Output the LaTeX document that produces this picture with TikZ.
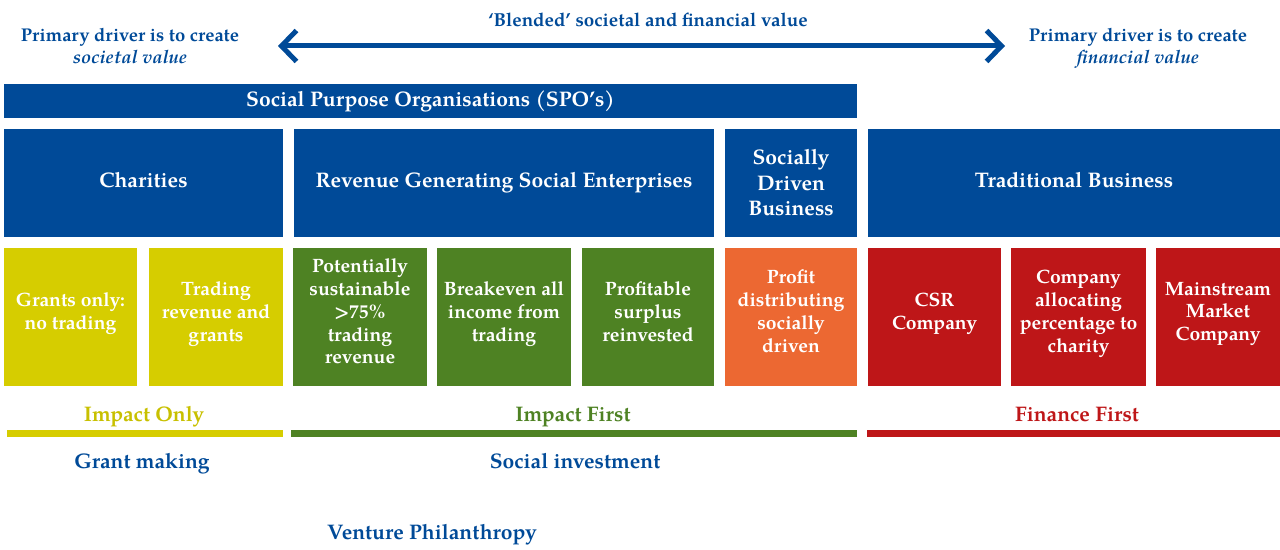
\documentclass[tikz,border=0pt]{standalone}
\usepackage{fontspec}
\setmainfont{texgyrepagella}[Extension=.otf, UprightFont=*-regular, BoldFont=*-bold, ItalicFont=*-italic, BoldItalicFont=*-bolditalic]
\usetikzlibrary{arrows.meta}
\definecolor{spoblue}{RGB}{0,74,152}
\definecolor{impyellow}{RGB}{214,205,0}
\definecolor{onlytext}{RGB}{200,192,0}
\definecolor{impgreen}{RGB}{78,130,35}
\definecolor{sdorange}{RGB}{236,104,50}
\definecolor{finred}{RGB}{190,22,24}
\begin{document}
\begin{tikzpicture}[x=0.02cm, y=-0.02cm,
		head/.style={fill=spoblue, text=white, font=\bfseries\fontsize{12}{14.5}\selectfont, align=center, inner sep=0pt, minimum height=2.16cm},
		cell/.style={fill=#1, text=white, font=\bfseries\fontsize{11}{13}\selectfont, align=center, inner sep=0pt, text depth=6.5pt, minimum height=2.76cm},
		blurb/.style={text=#1, font=\bfseries\fontsize{12}{14}\selectfont, align=center, text depth=0pt},
		note/.style={text=spoblue, font=\bfseries\fontsize{10.5}{12.5}\selectfont, align=center, text depth=0pt}]
		\useasboundingbox (0,0) rectangle (1280,550);
		
		% blended value arrow
		\coordinate (L) at (278,46);
		\coordinate (R) at (1005,46);
		\draw[spoblue, line width=0.1cm, {Straight Barb[length=0.3cm,width=0.62cm]}-{Straight Barb[length=0.3cm,width=0.62cm]}] (L) -- (R);
		\node[note, font=\bfseries\fontsize{10.7}{12.5}\selectfont] (blend) at (648,19.5) {‘Blended’ societal and financial value};
		\node[note] (soc) at (130,46) {Primary driver is to create\\\textit{societal value}};
		\node[note] (fin) at (1138,46) {Primary driver is to create\\\textit{financial value}};
		
		\node[head, minimum width=17.06cm, minimum height=0.68cm] (spo) at (430.5,101) {Social Purpose Organisations (SPO’s)};
		
		\foreach \name/\cx/\w/\txt in {char/143.5/5.58/Charities, rgse/504/8.4/Revenue Generating Social Enterprises, trad/1074/8.24/Traditional Business}
			\node[head, text depth=3pt, minimum width=\w cm] (\name) at (\cx,183) {\txt};
		\node[head, minimum width=2.64cm] (sdb) at (791,183) {Socially\\Driven\\Business};
		
		\foreach \name/\cx/\w/\col/\txt in {
			grant/70.5/2.66/impyellow/Grants only:\\no trading,
			trade/216/2.68/impyellow/Trading\\revenue and\\grants,
			pot/360/2.68/impgreen/Potentially\\sustainable\\>75\%\\trading\\revenue,
			even/504/2.68/impgreen/Breakeven all\\income from\\trading,
			surp/648/2.64/impgreen/Profitable\\surplus\\reinvested,
			dist/791/2.64/sdorange/Profit\\distributing\\socially\\driven,
			csr/934.5/2.66/finred/CSR\\Company,
			alloc/1078.5/2.7/finred/Company\\allocating\\percentage to\\charity,
			main/1218/2.48/finred/Mainstream\\Market\\Company}
			\node[cell=\col, minimum width=\w cm] (\name) at (\cx,317) {\txt};
		
		\fill[impyellow] (7,430) rectangle (283,437);
		\fill[impgreen] (291,430) rectangle (857,437);
		\fill[finred] (867,430) rectangle (1280,437);
		
		\node[blurb=onlytext] (only) at (144,414) {Impact Only};
		\node[blurb=impgreen] (first) at (573,414) {Impact First};
		\node[blurb=finred] (finfirst) at (1077,414) {Finance First};
		
		\node[blurb=spoblue] (gm) at (142,461) {Grant making};
		\node[blurb=spoblue] (si) at (575,461) {Social investment};
		\node[blurb=spoblue] (vp) at (432,532) {Venture Philanthropy};
	\end{tikzpicture}
\end{document}
